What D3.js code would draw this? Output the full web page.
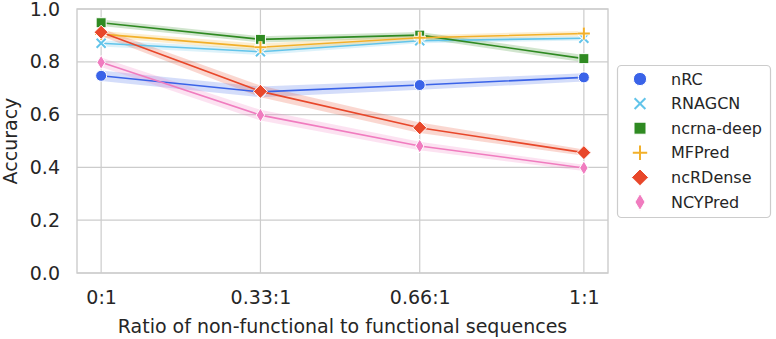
<!DOCTYPE html>
<html>
<head>
<meta charset="utf-8">
<script src="https://cdn.jsdelivr.net/npm/d3@7"></script>
<style>
  body { margin: 0; background: #fff; }
  text { font-family: "DejaVu Sans", sans-serif; fill: #262626; }
</style>
</head>
<body>
<div id="chart"></div>
<script>
const ratios = [0, 0.33, 0.66, 1];
const ratioLabels = ["0:1", "0.33:1", "0.66:1", "1:1"];
const yTicks = [0, 0.2, 0.4, 0.6, 0.8, 1.0];

const models = ["nRC", "RNAGCN", "ncrna-deep", "MFPred", "ncRDense", "NCYPred"];
const colors = ["#3a63e8", "#62c4ea", "#2f8a22", "#f2b02a", "#e8472a", "#f07cbf"];
const shapes = ["circle", "x", "square", "plus", "diamond", "thin"];

const nRC = [0.747, 0.686, 0.712, 0.741];
const RNAGCN = [0.870, 0.838, 0.880, 0.889];
const ncrnaDeep = [0.948, 0.885, 0.901, 0.812];
const MFPred = [0.905, 0.855, 0.891, 0.907];
const ncRDense = [0.912, 0.688, 0.550, 0.456];
const NCYPred = [0.798, 0.598, 0.481, 0.398];
const values = [nRC, RNAGCN, ncrnaDeep, MFPred, ncRDense, NCYPred];

// half-width of the shaded confidence band
const ciNRC = [0.02, 0.02, 0.018, 0.016];
const ciRNAGCN = [0.012, 0.012, 0.01, 0.008];
const ciNcrnaDeep = [0.012, 0.012, 0.012, 0.014];
const ciMFPred = [0.012, 0.014, 0.01, 0.01];
const ciNcRDense = [0.014, 0.022, 0.02, 0.012];
const ciNCYPred = [0.018, 0.02, 0.016, 0.012];
const cis = [ciNRC, ciRNAGCN, ciNcrnaDeep, ciMFPred, ciNcRDense, ciNCYPred];

const width = 776, height = 339;
const margin = { top: 9, right: 168, bottom: 66, left: 77 };
const grid = "#cccccc";

const svg = d3.select("#chart").append("svg")
  .attr("width", width)
  .attr("height", height);

const x = d3.scaleLinear().domain([-0.05, 1.05]).range([margin.left, width - margin.right]);
const y = d3.scaleLinear().domain([0, 1]).range([height - margin.bottom, margin.top]);

// grid
svg.append("g").selectAll("line").data(ratios).join("line")
  .attr("x1", d => x(d)).attr("x2", d => x(d))
  .attr("y1", margin.top).attr("y2", height - margin.bottom)
  .attr("stroke", grid).attr("stroke-width", 1.2);
svg.append("g").selectAll("line").data(yTicks).join("line")
  .attr("x1", margin.left).attr("x2", width - margin.right)
  .attr("y1", d => y(d)).attr("y2", d => y(d))
  .attr("stroke", grid).attr("stroke-width", 1.2);

// frame
svg.append("rect")
  .attr("x", margin.left).attr("y", margin.top)
  .attr("width", width - margin.right - margin.left)
  .attr("height", height - margin.bottom - margin.top)
  .attr("fill", "none").attr("stroke", grid).attr("stroke-width", 1.4);

// axes
const xAxis = d3.axisBottom(x).tickValues(ratios)
  .tickFormat((d, i) => ratioLabels[i]).tickSize(0).tickPadding(18);
svg.append("g")
  .attr("transform", `translate(0,${height - margin.bottom})`)
  .call(xAxis)
  .call(g => g.select(".domain").remove())
  .selectAll("text").attr("font-size", 19).attr("fill", "#262626");

const yAxis = d3.axisLeft(y).tickValues(yTicks)
  .tickFormat(d3.format(".1f")).tickSize(0).tickPadding(17);
svg.append("g")
  .attr("transform", `translate(${margin.left},0)`)
  .call(yAxis)
  .call(g => g.select(".domain").remove())
  .selectAll("text").attr("font-size", 19).attr("fill", "#262626");

svg.append("text")
  .attr("x", (margin.left + width - margin.right) / 2)
  .attr("y", 333)
  .attr("text-anchor", "middle")
  .attr("font-size", 19)
  .text("Ratio of non-functional to functional sequences");

svg.append("text")
  .attr("transform", `translate(17,${(margin.top + height - margin.bottom) / 2}) rotate(-90)`)
  .attr("text-anchor", "middle")
  .attr("font-size", 19)
  .text("Accuracy");

// marker drawing
function drawMarker(g, shape, color, cx, cy, scale) {
  const s = scale || 1;
  if (shape === "circle") {
    g.append("circle").attr("cx", cx).attr("cy", cy).attr("r", 5.5 * s)
      .attr("fill", color).attr("stroke", "#fff").attr("stroke-width", 1);
  } else if (shape === "square") {
    g.append("rect").attr("x", cx - 5 * s).attr("y", cy - 5 * s)
      .attr("width", 10 * s).attr("height", 10 * s)
      .attr("fill", color).attr("stroke", "#fff").attr("stroke-width", 1);
  } else if (shape === "diamond") {
    const r = 7 * s;
    g.append("path")
      .attr("d", `M${cx},${cy - r}L${cx + r},${cy}L${cx},${cy + r}L${cx - r},${cy}Z`)
      .attr("fill", color).attr("stroke", "#fff").attr("stroke-width", 1);
  } else if (shape === "thin") {
    const h = 7 * s, w = 4.2 * s;
    g.append("path")
      .attr("d", `M${cx},${cy - h}L${cx + w},${cy}L${cx},${cy + h}L${cx - w},${cy}Z`)
      .attr("fill", color).attr("stroke", "#fff").attr("stroke-width", 1);
  } else if (shape === "x") {
    const r = 4.5 * s;
    const d = `M${cx - r},${cy - r}L${cx + r},${cy + r}M${cx - r},${cy + r}L${cx + r},${cy - r}`;
    g.append("path").attr("d", d).attr("stroke", "#fff").attr("stroke-width", 4);
    g.append("path").attr("d", d).attr("stroke", color).attr("stroke-width", 2);
  } else if (shape === "plus") {
    const r = 6 * s;
    const d = `M${cx - r},${cy}L${cx + r},${cy}M${cx},${cy - r}L${cx},${cy + r}`;
    g.append("path").attr("d", d).attr("stroke", "#fff").attr("stroke-width", 4);
    g.append("path").attr("d", d).attr("stroke", color).attr("stroke-width", 2);
  }
}

const area = d3.area()
  .x((d, i) => x(ratios[i]))
  .y0(d => y(d[0] - d[1]))
  .y1(d => y(d[0] + d[1]));
const line = d3.line()
  .x((d, i) => x(ratios[i]))
  .y(d => y(d));

const plot = svg.append("g");
models.forEach((m, k) => {
  const band = values[k].map((v, i) => [v, cis[k][i]]);
  plot.append("path").datum(band)
    .attr("d", area).attr("fill", colors[k]).attr("fill-opacity", 0.22);
});
models.forEach((m, k) => {
  plot.append("path").datum(values[k])
    .attr("d", line).attr("fill", "none")
    .attr("stroke", colors[k]).attr("stroke-width", 1.6);
  values[k].forEach((v, i) => drawMarker(plot, shapes[k], colors[k], x(ratios[i]), y(v)));
});

// legend
const lg = svg.append("g");
lg.append("rect")
  .attr("x", 617.5).attr("y", 65.5)
  .attr("width", 153).attr("height", 152)
  .attr("rx", 4)
  .attr("fill", "#fff").attr("fill-opacity", 0.8)
  .attr("stroke", grid).attr("stroke-width", 1.2);
models.forEach((m, k) => {
  const ly = 79 + k * 24.6;
  drawMarker(lg, shapes[k], colors[k], 640, ly, 1.2);
  lg.append("text")
    .attr("x", 671).attr("y", ly)
    .attr("dy", "0.35em")
    .attr("font-size", 16)
    .text(m);
});
</script>
</body>
</html>
